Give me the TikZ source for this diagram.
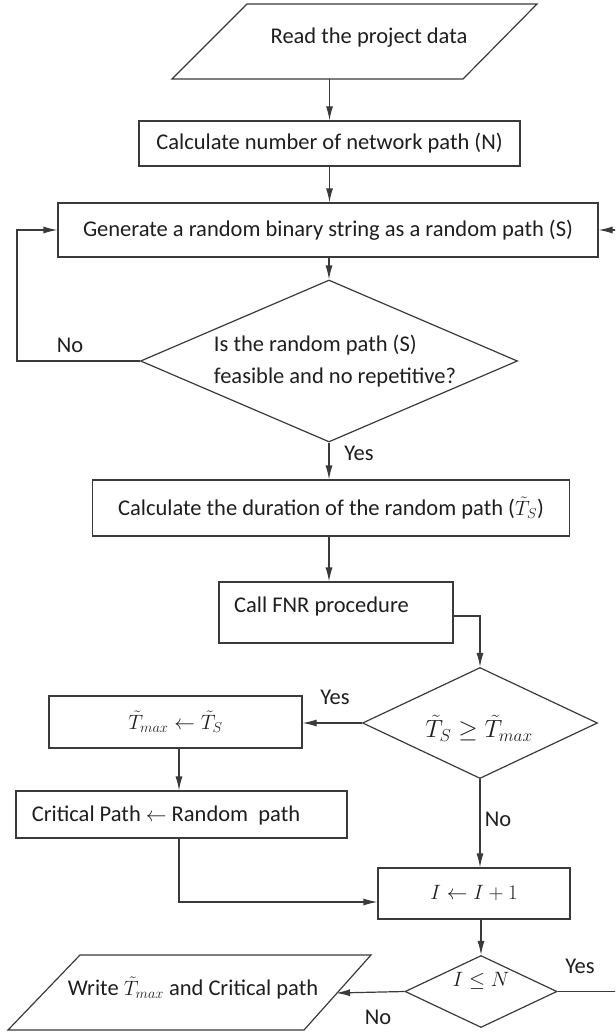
\documentclass[tikz,border=0pt]{standalone}
\usepackage{fontspec}
\setmainfont{Carlito}
\usetikzlibrary{shapes.geometric,arrows.meta}
\definecolor{linec}{HTML}{3A3A3A}
\definecolor{textc}{HTML}{1E1E1E}
\begin{document}
\begin{tikzpicture}[x=1pt,y=-1pt,
  line/.style={draw=linec, line width=1.2pt},
  arr/.style={draw=linec, line width=1.2pt, -{Latex[length=14pt,width=7pt]}},
  box/.style={draw=linec, line width=1.2pt, rectangle, inner sep=0pt, font=\fontsize{22.5}{27}\selectfont, text=textc},
  dia/.style={draw=linec, line width=1.2pt, diamond, inner sep=0pt},
  lab/.style={font=\fontsize{22.5}{27}\selectfont, text=textc, inner sep=0pt},
  mathlab/.style={font=\fontsize{20}{24}\selectfont, text=textc, inner sep=0pt},
]
\useasboundingbox (0,0) rectangle (615,1032);
\clip (0,0) rectangle (615,1032);

% start parallelogram
\draw[line] (247,4) -- (537,4) -- (463,79) -- (172,79) -- cycle;
\node[lab] (p1t) at (369,38) {Read the project data};
\coordinate (p1b) at (329.5,79);

\node[box, minimum width=381pt, minimum height=45pt] (b2) at (329.5,143.5) {Calculate number of network path (N)};
\node[box, minimum width=540pt, minimum height=54pt] (b3) at (328,230) {Generate a random binary string as a random path (S)};

\node[dia, minimum width=377pt, minimum height=162pt] (d1) at (329,361) {};
\node[lab, align=left, font=\fontsize{22.5}{32}\selectfont] (d1t) at (335,361) {Is the random path (S)\\feasible and no repetitive?};

\node[box, minimum width=477pt, minimum height=56pt] (b4) at (331,508) {Calculate the duration of the random path ($\tilde{T}_S$)};

\node[box, minimum width=234pt, minimum height=61pt] (b5) at (336,612.5) {};
\node[lab, anchor=west] (b5t) at (234,606) {Call FNR procedure};

\node[dia, minimum width=235pt, minimum height=111pt] (d2) at (480,723) {};
\node[inner sep=0pt, text=textc, font=\fontsize{27}{31}\selectfont] (d2t) at (479,728) {$\tilde{T}_S \geq \tilde{T}_{max}$};

\node[box, minimum width=253pt, minimum height=52pt, font=\fontsize{20}{24}\selectfont] (b6) at (175.5,722) {$\tilde{T}_{max} \leftarrow \tilde{T}_S$};

\node[box, minimum width=331pt, minimum height=47pt] (b7) at (181.5,814.5) {};
\node[lab] (b7t) at (166,815) {Critical Path $\leftarrow$ Random~~path};

\node[box, minimum width=192pt, minimum height=51pt, font=\fontsize{21}{25}\selectfont] (b8) at (474,893.5) {$I \leftarrow I + 1$};

\node[dia, minimum width=152pt, minimum height=72pt] (d3) at (481,991.5) {};
\node[mathlab] (d3t) at (481,981) {$I \leq N$};

% output parallelogram
\draw[line] (80,955) -- (371,955) -- (304,1030) -- (8,1030) -- cycle;
\node[lab] (p2t) at (193,988) {Write $\tilde{T}_{max}$ and Critical path};
\coordinate (p2r) at (336,993);

% helper coordinates
\coordinate (loopL) at (17,0);
\coordinate (loopR) at (622,0);
\coordinate (ax) at (179,0);

% connectors
\draw[arr] (p1b) -- (b2.north);
\draw[arr] (b2.south) -- (b2.south |- b3.north);
\draw[arr] (b3.south -| d1.north) -- (d1.north);
\draw[arr] (d1.west) -- (d1.west -| loopL) |- (b3.west);
\draw[arr] (d1.south) -- (d1.south |- b4.north);
\draw[arr] (b4.south -| d1.south) -- (d1.south |- b5.north);
\draw[arr] ([yshift=-3.5pt]b5.east) -| (d2.north);
\draw[arr] (d2.west) -- (d2.west -| b6.east);
\draw[arr] (b6.south -| ax) -- (b7.north -| ax);
\draw[arr] (b7.south -| ax) |- ([yshift=-8.5pt]b8.west);
\draw[arr] (d2.south) -- (d2.south |- b8.north);
\draw[arr] (b8.south -| d3.north) -- (d3.north);
\draw[arr] (d3.west) -- (p2r);
\draw[arr] (d3.east) -- (d3.east -| loopR) |- (b3.east);

% labels
\node[lab] (l1) at (70,345) {No};
\node[lab] (l2) at (359,453) {Yes};
\node[lab] (l3) at (335,697) {Yes};
\node[lab] (l4) at (498,819) {No};
\node[lab] (l5) at (580,966) {Yes};
\node[lab] (l6) at (378,1017) {No};
\end{tikzpicture}
\end{document}
